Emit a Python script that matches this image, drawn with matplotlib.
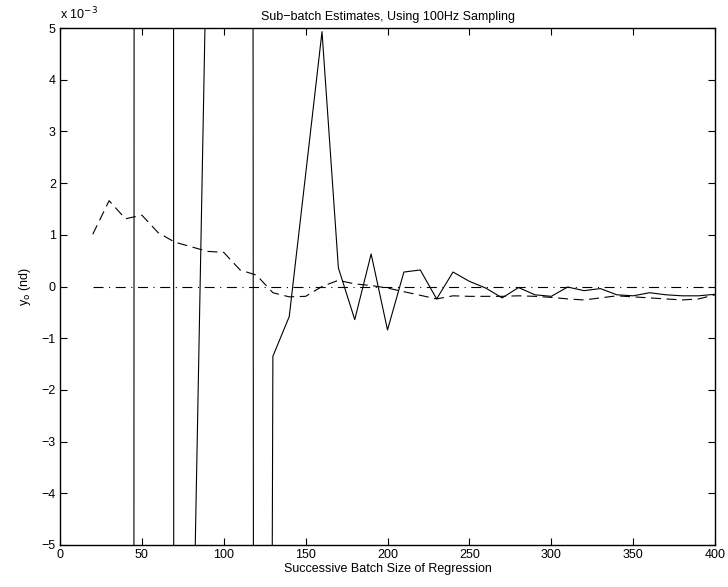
import matplotlib
matplotlib.use("Agg")
import matplotlib.pyplot as plt
from matplotlib.ticker import FuncFormatter
import numpy as np

plt.rcParams["font.family"] = ["Liberation Sans", "DejaVu Sans"]
plt.rcParams["font.size"] = 9

# batch sizes
batch = np.arange(20, 401, 10)

# solid: sub-batch estimate (early points blow far off scale)
y_solid = np.array([
    -0.30, -0.40, -0.52, 0.48, 1.0, -0.064, -0.0094, 0.0075, 0.05, 0.40,
    -0.10, -1.35e-3, -0.58e-3, 2.17e-3, 4.93e-3, 0.36e-3, -0.64e-3, 0.63e-3, -0.84e-3, 0.28e-3,
    0.32e-3, -0.24e-3, 0.28e-3, 0.10e-3, -0.03e-3, -0.22e-3, -0.02e-3, -0.16e-3, -0.19e-3, -0.01e-3,
    -0.08e-3, -0.04e-3, -0.16e-3, -0.18e-3, -0.12e-3, -0.16e-3, -0.18e-3, -0.18e-3, -0.15e-3,
])

# dashed: second estimate
y_dashed = np.array([
    1.01, 1.66, 1.31, 1.38, 1.04, 0.86, 0.77, 0.68, 0.66, 0.32,
    0.22, -0.12, -0.20, -0.19, 0.00, 0.12, 0.05, 0.02, -0.03, -0.10,
    -0.17, -0.24, -0.18, -0.19, -0.19, -0.19, -0.18, -0.19, -0.21, -0.24,
    -0.26, -0.22, -0.18, -0.20, -0.22, -0.24, -0.26, -0.24, -0.16,
]) * 1e-3

# dash-dot: true value
y_true = np.zeros_like(batch, dtype=float)

fig = plt.figure(figsize=(7.28, 5.87), dpi=100)
ax = fig.add_axes([0.0824, 0.0716, 0.8998, 0.8806])

ax.plot(batch, y_solid, color="k", lw=0.8)
ax.plot(batch, y_dashed, color="k", lw=0.8, linestyle=(0, (9, 5)))
ax.plot(batch, y_true, color="k", lw=0.8, linestyle=(0, (9, 5, 1, 5)))

ax.set_xlim(0, 400)
ax.set_ylim(-5e-3, 5e-3)
ax.set_xticks(np.arange(0, 401, 50))
ax.set_yticks(np.arange(-5, 6, 1) * 1e-3)
ax.yaxis.set_major_formatter(FuncFormatter(
    lambda v, p: f"{v * 1e3:.0f}".replace("-", "\u2212")))
ax.tick_params(direction="in", top=True, right=True, length=5,
               width=0.8, labelsize=9, pad=3)
for s in ax.spines.values():
    s.set_linewidth(1.0)

ax.text(0.0, 1.012, r"x 10$^{-3}$", transform=ax.transAxes,
        ha="left", va="bottom", fontsize=9)
ax.set_title("Sub\u2212batch Estimates, Using 100Hz Sampling", fontsize=9, pad=6)
ax.set_xlabel("Successive Batch Size of Regression", fontsize=9, labelpad=1)
ax.set_ylabel(r"y$_{\mathrm{o}}$ (nd)", fontsize=9, labelpad=6)

fig.savefig("out.png", dpi=100)
